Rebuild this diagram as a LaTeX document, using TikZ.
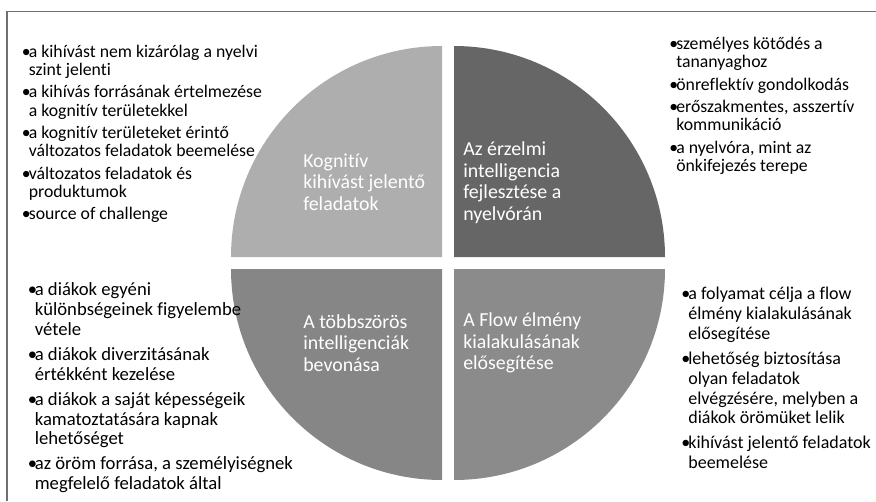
\documentclass[tikz,border=0pt]{standalone}
\usepackage{fontspec}
\setmainfont{Carlito}[Ligatures=NoCommon]
\usepackage{xcolor}

\definecolor{quadlight}{HTML}{AEAEAE}
\definecolor{quaddark}{HTML}{666666}
\definecolor{quadmulti}{HTML}{868686}
\definecolor{quadflow}{HTML}{8B8B8B}
\definecolor{framegray}{HTML}{707070}

\newcommand*\quadrad{211}
\newlength\bulwidth
\setlength\bulwidth{5.3pt}
% one bullet item, continuation lines hang under the text
\newcommand*\bul[1]{\par\hangindent=\bulwidth\hangafter=1\noindent
    \makebox[\bulwidth][l]{\textbullet}#1\par}

\tikzset{
    quadlabel/.style  = {anchor=west, align=left, inner sep=0pt, text=white,
                         font=\fontsize{14.9}{16.1}\selectfont},
    % no align key here: it would force wide word spaces
    bulletlist/.style = {anchor=north west, inner sep=0pt, text width=260pt,
                         font=\fontsize{13.3}{13.75}\selectfont,
                         execute at begin node={\setlength\parskip{3pt}%
                             \spaceskip=\fontdimen2\font\relax}},
    biglist/.style    = {bulletlist, font=\fontsize{14}{14.9}\selectfont,
                         execute at begin node={\setlength\parskip{3.8pt}}},
    flowlist/.style   = {biglist, font=\fontsize{13.5}{14.9}\selectfont},
}

\begin{document}
\begin{tikzpicture}[x=0.75pt, y=-0.75pt]
    \useasboundingbox (0,0) rectangle (876,501);

    % frame: only its top and left edges fall on the page
    \draw[framegray, line width=1.1pt] (7,501) -- (7,11.5) -- (876,11.5);

    % four quarter discs with a white cross between them
    \foreach \cx/\cy/\sa/\ea/\col in {442/257/180/270/quadlight,
                                      454/257/0/-90/quaddark,
                                      442/269/180/90/quadmulti,
                                      454/269/0/90/quadflow} {
        \fill[\col] (\cx,\cy) -- +(\sa:\quadrad)
            arc[start angle=\sa, end angle=\ea, radius=\quadrad] -- cycle;
    }

    % quadrant titles
    \node[quadlabel] (kogn) at (303,182) {Kognitív\\kihívást jelentő\\feladatok};
    \node[quadlabel] (erz)  at (463,182.5) {Az érzelmi\\intelligencia\\fejlesztése a\\nyelvórán};
    \node[quadlabel] (tobb) at (303,343) {A többszörös\\intelligenciák\\bevonása};
    \node[quadlabel] (flow) at (463,343) {A Flow élmény\\kialakulásának\\elősegítése};

    % bullet lists in the corners
    \node[bulletlist] (kognlist) at (21.5,34.5) {
        \bul{a kihívást nem kizárólag a nyelvi\newline szint jelenti}
        \bul{a kihívás forrásának értelmezése\newline a kognitív területekkel}
        \bul{a kognitív területeket érintő\newline változatos feladatok beemelése}
        \bul{változatos feladatok és\newline produktumok}
        \bul{source of challenge}
    };
    \node[bulletlist] (erzlist) at (669,27) {
        \bul{személyes kötődés a\newline tananyaghoz}
        \bul{önreflektív gondolkodás}
        \bul{erőszakmentes, asszertív\newline kommunikáció}
        \bul{a nyelvóra, mint az\newline önkifejezés terepe}
    };
    \node[biglist] (tobblist) at (27.5,270.5) {
        \bul{a diákok egyéni\newline különbségeinek figyelembe\newline vétele}
        \bul{a diákok diverzitásának\newline értékként kezelése}
        \bul{a diákok a saját képességeik\newline kamatoztatására kapnak\newline lehetőséget}
        \bul{az öröm forrása, a személyiségnek\newline megfelelő feladatok által}
    };
    \node[flowlist] (flowitems) at (681,274.5) {
        \bul{a folyamat célja a flow\newline élmény kialakulásának\newline elősegítése}
        \bul{lehetőség biztosítása\newline olyan feladatok\newline elvégzésére, melyben a\newline diákok örömüket lelik}
        \bul{kihívást jelentő feladatok\newline beemelése}
    };
\end{tikzpicture}
\end{document}
